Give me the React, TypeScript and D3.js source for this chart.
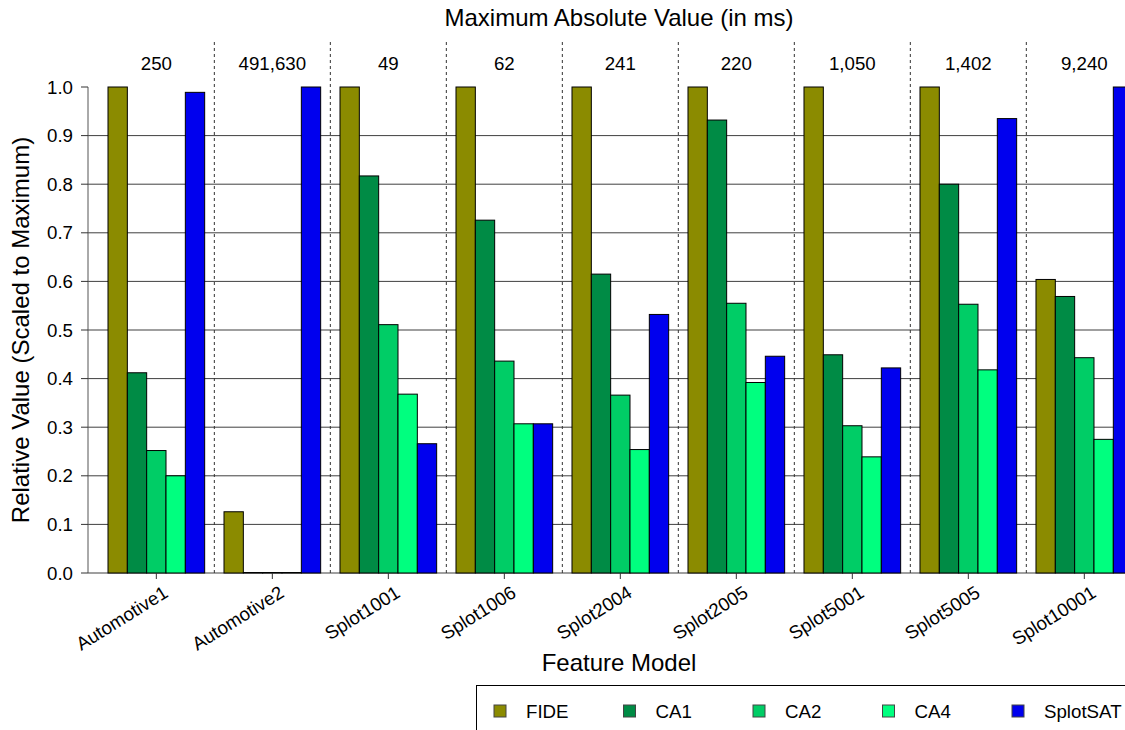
import React from "react";
import * as d3 from "d3";

const models = ["Automotive1", "Automotive2", "Splot1001", "Splot1006", "Splot2004", "Splot2005", "Splot5001", "Splot5005", "Splot10001"];
const maxLabels = ["250", "491,630", "49", "62", "241", "220", "1,050", "1,402", "9,240"];
const seriesNames = ["FIDE", "CA1", "CA2", "CA4", "SplotSAT"];
const seriesColors = ["#8b8b00", "#008b45", "#00cd66", "#00ff7f", "#0000ee"];

const fide = [1.0, 0.126, 1.0, 1.0, 1.0, 1.0, 1.0, 1.0, 0.604];
const ca1 = [0.412, 0.001, 0.817, 0.726, 0.615, 0.932, 0.449, 0.8, 0.569];
const ca2 = [0.252, 0.001, 0.511, 0.436, 0.366, 0.555, 0.303, 0.553, 0.443];
const ca4 = [0.2, 0.001, 0.368, 0.307, 0.254, 0.392, 0.239, 0.418, 0.275];
const splotsat = [0.989, 1.0, 0.266, 0.307, 0.532, 0.446, 0.422, 0.935, 1.0];
const series = [fide, ca1, ca2, ca4, splotsat];

const yTicks = [0, 0.1, 0.2, 0.3, 0.4, 0.5, 0.6, 0.7, 0.8, 0.9, 1.0];
const gridTicks = [0, 0.1, 0.2, 0.3, 0.4, 0.5, 0.6, 0.7, 0.8, 0.9];

const FONT = "'Liberation Sans', Arial, Helvetica, sans-serif";

export default function App() {
  const W = 1125, H = 730;
  const unit = 19.333;
  const left = 88.67;
  const nUnits = models.length * 6;
  const x = d3.scaleLinear().domain([0, nUnits]).range([left, left + nUnits * unit]);
  const y = d3.scaleLinear().domain([0, 1]).range([573, 87]);
  const fs = 18.7;

  return (
    <svg width={W} height={H} style={{ position: "absolute", left: 0, top: 0, background: "#fff" }} fontFamily={FONT}>
      {/* gridlines */}
      {gridTicks.map((t) => (
        <line key={"g" + t} x1={88} x2={W} y1={y(t)} y2={y(t)} stroke="#000" strokeWidth={1} opacity={0.75} />
      ))}
      {/* separators */}
      {models.slice(1).map((m, i) => (
        <line key={"s" + m} x1={x(6 * (i + 1) + 0.5)} x2={x(6 * (i + 1) + 0.5)} y1={42} y2={573}
          stroke="#333" strokeWidth={1} strokeDasharray="3,3" />
      ))}
      {/* bars */}
      {models.map((m, gi) =>
        series.map((s, si) => {
          const x0 = x(6 * gi + 1 + si);
          const x1 = x(6 * gi + 2 + si);
          const v = s[gi];
          return (
            <rect key={m + si} x={x0} y={y(v)} width={x1 - x0} height={y(0) - y(v)}
              fill={seriesColors[si]} stroke="#000" strokeWidth={1} />
          );
        })
      )}
      {/* y axis */}
      <line x1={88} x2={88} y1={y(0)} y2={y(1)} stroke="#555" strokeWidth={1} />
      {yTicks.map((t) => (
        <g key={"y" + t}>
          <line x1={81} x2={88} y1={y(t)} y2={y(t)} stroke="#333" strokeWidth={1} />
          <text x={73} y={y(t)} dy="0.35em" textAnchor="end" fontSize={fs} fill="#000">{d3.format(".1f")(t)}</text>
        </g>
      ))}
      {/* x ticks and labels */}
      {models.map((m, gi) => {
        const cx = x(6 * gi + 3.5);
        return (
          <g key={"x" + m}>
            <line x1={cx} x2={cx} y1={573} y2={579} stroke="#333" strokeWidth={1} />
            <text transform={`translate(${cx + 13},${596}) rotate(-32)`} textAnchor="end" fontSize={fs} fill="#000">{m}</text>
            <text x={cx} y={70} textAnchor="middle" fontSize={fs} fill="#000">{maxLabels[gi]}</text>
          </g>
        );
      })}
      {/* titles */}
      <text x={619} y={26} textAnchor="middle" fontSize={24} fill="#000">Maximum Absolute Value (in ms)</text>
      <text x={619} y={671} textAnchor="middle" fontSize={24} fill="#000">Feature Model</text>
      <text transform={`translate(29,${y(0.5)}) rotate(-90)`} textAnchor="middle" fontSize={24} fill="#000">Relative Value (Scaled to Maximum)</text>
      {/* legend */}
      <rect x={476.5} y={685.5} width={700} height={80} fill="none" stroke="#000" strokeWidth={1} />
      {seriesNames.map((n, i) => {
        const lx = 494 + i * 129.5;
        return (
          <g key={"l" + n}>
            <rect x={lx} y={705} width={12} height={12} fill={seriesColors[i]} stroke="#444" strokeWidth={1} />
            <text x={lx + 32} y={711} dy="0.35em" fontSize={fs} fill="#000">{n}</text>
          </g>
        );
      })}
    </svg>
  );
}
